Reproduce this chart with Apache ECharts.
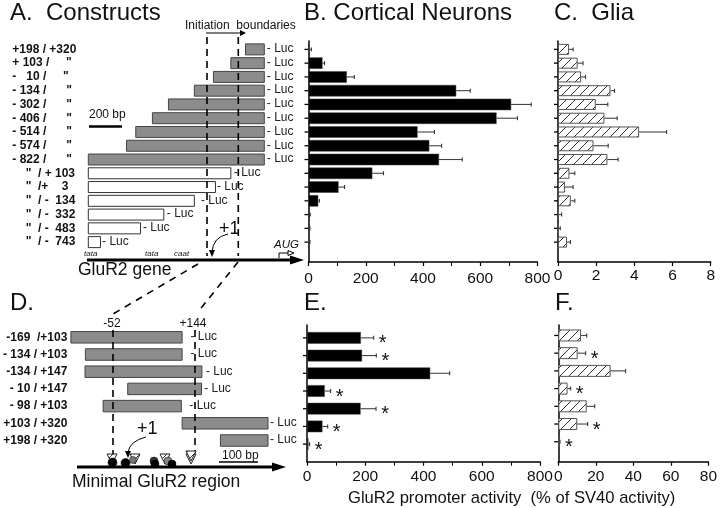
<!DOCTYPE html>
<html>
<head>
<meta charset="utf-8">
<style>html,body{margin:0;padding:0;background:#fff}#chart{width:720px;height:508px}</style>
<script src="https://cdn.jsdelivr.net/npm/echarts@6/dist/echarts.min.js"></script>
</head>
<body>
<div id="chart"></div>
<script>
// construct labels, panel A
var constructLabelsA = ['+198 / +320','+ 103 /     "','-   10 /     "','- 134 /      "','- 302 /      "','- 406 /      "','- 514 /      "','- 574 /      "','- 822 /      "',
    '    "  / + 103','    "  /+    3','    "  / -  134','    "  / -  332','    "  / -  483','    "  / -  743'];
// construct extents in bp
var startA = [198,103,-10,-134,-302,-406,-514,-574,-822,-822,-822,-822,-822,-822,-822];
var endA = [320,320,320,320,320,320,320,320,320,103,3,-134,-332,-483,-743];
var lucGapA = [2.5,2.5,2.5,2.5,2.5,2.5,2.5,2.5,2.5,3,1.5,6.6,3,2.4,1.6];

// panel D
var constructLabelsD = ['-169  /+103','- 134 / +103','-134 / +147','- 10 / +147','- 98 / +103','+103 / +320','+198 / +320'];
var startD = [-169,-133,-134,-28,-89,107,202];
var endD = [107,107,156,155,105,320,320];
var lucGapD = [8.3,8.3,4,2.7,8,2,2];

// activity values and top of the error bar
var neurons = [3,49,134,516,708,657,381,422,456,223,105,34,3,2,2];
var neuronsErr = [10,56,160,565,778,730,440,465,537,262,126,38,6,5,5];
var glia = [0.58,1.03,1.21,2.75,1.98,2.43,4.25,1.86,2.59,0.6,0.37,0.67,0.02,0.01,0.47];
var gliaErr = [0.79,1.31,1.44,2.96,2.61,3.1,5.69,2.63,3.15,0.88,0.79,0.88,0.19,0.12,0.65];
var neuronsMin = [185,189,423,61,184,53,5];
var neuronsMinErr = [229,238,490,81,237,71,9];
var neuronsMinStar = [1,1,0,1,1,1,1];
var gliaMin = [12,10.2,27.6,4.9,15,10,0.5];
var gliaMinErr = [15,14.4,35.5,6.5,19.2,15.5,0.9];
var gliaMinStar = [0,1,0,1,0,1,1];

var FONT = '"Liberation Sans", Arial, sans-serif';

function hatch(){
    var c = document.createElement('canvas');
    c.width = 9; c.height = 9;
    var g = c.getContext('2d');
    g.fillStyle = '#fff';
    g.fillRect(0,0,9,9);
    g.strokeStyle = '#333';
    g.lineWidth = 1;
    g.beginPath();
    g.moveTo(-1,10); g.lineTo(10,-1);
    g.stroke();
    return {image:c,repeat:'repeat'};
}
var hatchFill = hatch();

var grids = [], xAxes = [], yAxes = [], series = [];

function addGrid(left,top,width,height){
    grids.push({left:left,top:top,width:width,height:height,containLabel:false});
    return grids.length-1;
}

// bars drawn in the row grid, axes drawn in a slightly taller frame grid
function addPanel(o){
    var n = o.values.length, cats = [];
    for(var i=0;i<n;i++) cats.push(String(i));
    var rowGrid = addGrid(o.left,o.rowTop,o.width,o.rowHeight);
    xAxes.push({gridIndex:rowGrid,type:'value',min:0,max:o.max,show:false});
    yAxes.push({gridIndex:rowGrid,type:'category',data:cats,inverse:true,
        axisLine:{show:false},axisLabel:{show:false},axisTick:{show:false}});
    var axisId = xAxes.length-1;
    var frame = addGrid(o.left,o.frameTop,o.width,o.frameHeight);
    xAxes.push({gridIndex:frame,type:'value',min:0,max:o.max,interval:o.interval,
        splitLine:{show:false},
        axisLine:{show:true,lineStyle:{color:'#000',width:1.5}},
        axisTick:{show:true,length:4,lineStyle:{color:'#000',width:1.2}},
        minorTick:{show:!!o.minor,splitNumber:2,length:4,lineStyle:{color:'#000',width:1}},
        axisLabel:{color:'#111',fontFamily:FONT,fontSize:15.5,margin:o.labelMargin,hideOverlap:false,showMinLabel:true,showMaxLabel:true}});
    yAxes.push({gridIndex:frame,type:'value',min:0,max:1,splitLine:{show:false},
        axisLine:{show:true,lineStyle:{color:'#000',width:1.5}},axisTick:{show:false},axisLabel:{show:false}});

    series.push({type:'bar',xAxisIndex:axisId,yAxisIndex:axisId,data:o.values,barWidth:o.barWidth,
        silent:true,animation:false,
        itemStyle:o.hatched ? {color:hatchFill,borderColor:'#555',borderWidth:1} : {color:'#000',borderColor:'#444',borderWidth:0.5}});
    var errData = [];
    for(var j=0;j<n;j++) errData.push([o.values[j],o.errors[j],j,o.stars ? o.stars[j] : 0]);
    series.push({type:'custom',xAxisIndex:axisId,yAxisIndex:axisId,data:errData,silent:true,animation:false,clip:false,
        encode:{x:[0,1],y:2},
        renderItem:function(p,api){
            var z = api.coord([0,api.value(2)]);
            var a = api.coord([api.value(0),api.value(2)]);
            var b = api.coord([api.value(1),api.value(2)]);
            var kids = [
                {type:'line',shape:{x1:z[0]-4,y1:z[1],x2:z[0],y2:z[1]},style:{stroke:'#000',lineWidth:1.3}}, // row tick
                {type:'line',shape:{x1:a[0],y1:a[1],x2:b[0],y2:b[1]},style:{stroke:'#444',lineWidth:1.1}},
                {type:'line',shape:{x1:b[0],y1:b[1]-2,x2:b[0],y2:b[1]+2},style:{stroke:'#333',lineWidth:1.1}}
            ];
            if(api.value(3)){
                kids.push({type:'text',style:{x:b[0]+9,y:b[1]+6,text:'*',font:'20px '+FONT,fill:'#111',align:'center',verticalAlign:'middle'}});
            }
            return {type:'group',children:kids};
        }});
}

// construct maps: real bp scale, labels on the category axis
function addConstructs(o){
    var cats = o.labels;
    var g = addGrid(o.left,o.top,o.width,o.height);
    xAxes.push({gridIndex:g,type:'value',min:o.min,max:o.max,show:false});
    yAxes.push({gridIndex:g,type:'category',data:cats,inverse:true,
        axisLine:{show:false},axisTick:{show:false},
        axisLabel:{color:'#111',fontFamily:FONT,fontWeight:'bold',fontSize:o.fontSize,align:o.labelAlign,margin:o.margin,interval:0}});
    var id = xAxes.length-1, data = [];
    for(var i=0;i<cats.length;i++) data.push([o.start[i],o.end[i],i]);
    series.push({type:'custom',xAxisIndex:id,yAxisIndex:id,data:data,silent:true,animation:false,clip:false,
        encode:{x:[0,1],y:2},
        renderItem:function(p,api){
            var idx = p.dataIndex;
            var a = api.coord([api.value(0),api.value(2)]);
            var b = api.coord([api.value(1),api.value(2)]);
            var h = o.barHeight;
            var white = o.whiteFrom !== undefined && idx >= o.whiteFrom;
            return {type:'group',children:[
                {type:'rect',shape:{x:a[0],y:a[1]-h/2,width:b[0]-a[0],height:h},
                    style:{fill:white?'#fff':'#8c8c8c',stroke:white?'#333':'#444',lineWidth:1}},
                {type:'text',style:{x:b[0]+o.gaps[idx],y:a[1]-0.5,text:'- Luc',font:'12px '+FONT,fill:'#222',align:'left',verticalAlign:'middle'}}
            ]};
        }});
}

addConstructs({labels:constructLabelsA,start:startA,end:endA,gaps:lucGapA,min:-822,max:320,
    left:88.3,top:42.5,width:176,height:206.5,barHeight:11,whiteFrom:9,fontSize:12,labelAlign:'left',margin:76});
addConstructs({labels:constructLabelsD,start:startD,end:endD,gaps:lucGapD,min:-169,max:320,
    left:69.7,top:328.7,width:198.3,height:120.4,barHeight:11.5,fontSize:12,labelAlign:'right',margin:3.5});

addPanel({values:neurons,errors:neuronsErr,max:800,interval:200,minor:true,left:308.5,width:229,
    rowTop:42.5,rowHeight:206.5,frameTop:41,frameHeight:221,barWidth:11.5,labelMargin:9});
addPanel({values:glia,errors:gliaErr,max:8,interval:2,left:558,width:152.7,hatched:true,
    rowTop:42.5,rowHeight:206.5,frameTop:41,frameHeight:221,barWidth:11,labelMargin:6});
addPanel({values:neuronsMin,errors:neuronsMinErr,stars:neuronsMinStar,max:800,interval:200,minor:true,left:307,width:233,
    rowTop:329,rowHeight:124,frameTop:325,frameHeight:136.7,barWidth:11.7,labelMargin:7});
addPanel({values:gliaMin,errors:gliaMinErr,stars:gliaMinStar,max:80,interval:20,left:558.3,width:151.7,hatched:true,
    rowTop:326.6,rowHeight:124,frameTop:325,frameHeight:136.7,barWidth:12,labelMargin:7});

// annotations
function T(x,y,text,size,extra){
    var st = {x:x,y:y,text:text,font:(extra&&extra.font||'')+' '+size+'px '+FONT,fill:'#111',align:extra&&extra.align||'left',verticalAlign:'middle'};
    return {type:'text',z:100,style:st};
}
function L(x1,y1,x2,y2,w,dash){
    return {type:'line',z:100,shape:{x1:x1,y1:y1,x2:x2,y2:y2},style:{stroke:'#000',lineWidth:w,lineDash:dash||null}};
}
function P(points,fill,stroke){
    return {type:'polygon',z:100,shape:{points:points},style:{fill:fill||'#000',stroke:stroke||null,lineWidth:1}};
}
function C(x,y,r,fill){
    return {type:'circle',z:101,shape:{cx:x,cy:y,r:r},style:{fill:fill,stroke:'#000',lineWidth:0.5}};
}
function curve(x1,y1,cx,cy,x2,y2){
    return {type:'bezierCurve',z:100,shape:{x1:x1,y1:y1,x2:x2,y2:y2,cpx1:cx,cpy1:cy},style:{stroke:'#000',lineWidth:1,fill:null}};
}
function tri(x,y){
    return {type:'polygon',z:100,shape:{points:[[x-5,y-5],[x+5,y-5],[x,y+5]]},style:{fill:hatchFill,stroke:'#222',lineWidth:1}};
}

var notes = [
    T(10,13,'A.  Constructs',24), T(304,13,'B. Cortical Neurons',24), T(554,13,'C.  Glia',24),
    T(10,303,'D.',24), T(304,303,'E.',24), T(555,303,'F.',24),
    T(185,26,'Initiation  boundaries',12),
    L(206,33,242,33,1), P([[240,30],[246,33],[240,36]]),
    L(207,37,207,256,1.6,[7,5]), L(238.3,37,238.3,256,1.6,[7,5]),
    T(89,115,'200 bp',12), L(89,126.5,122,126.5,2.5),
    L(87,260,292,260,3), P([[290,255.5],[304,260],[290,264.5]]),
    T(84,254,'tata',8,{font:'italic'}), T(145,254,'tata',8,{font:'italic'}), T(174,254,'caat',8,{font:'italic'}),
    T(274,245,'AUG',11.5,{font:'italic'}),
    L(279,253,279,258,1), L(279,253,288,253,1), P([[288,250.5],[294,253],[288,255.5]],'#fff','#000'),
    T(219,229,'+1',18), curve(228,234,213,237,212,252), P([[209,250],[215,250],[212,257]]),
    T(78,270,'GluR2 gene',17.5),
    L(198,264,113,314,1.6,[7,6]), L(238,262,198,312,1.6,[7,6]),
    T(112,324,'-52',12,{align:'center'}), T(193,324,'+144',12,{align:'center'}),
    L(113,330,113,455,1.6,[7,5]), L(195,330,195,453,1.6,[7,5]),
    T(137,429,'+1',18), curve(146,437,130,441,128,452), P([[125,451],[131,451],[128,458]]),
    tri(112,459), tri(135,459), tri(165,459), tri(191,459), tri(191,456),
    C(112.5,462.5,4.5,'#000'), C(125.5,463,4.5,'#000'), C(133,460,3.5,'#777'),
    C(154,461,4,'#333'), C(155,464,4,'#000'), C(168,461,4,'#888'), C(172,464,4,'#000'),
    T(222,456,'100 bp',12), L(219,462,258,462,1.6),
    L(77,467,275,467,3), P([[272,462.5],[286,467],[272,471.5]]),
    T(72,482,'Minimal GluR2 region',17.5),
    T(348,498,'GluR2 promoter activity  (% of SV40 activity)',16.6)
];

var chart = echarts.init(document.getElementById('chart'),null,{renderer:'canvas'});
chart.setOption({
    animation:false,
    backgroundColor:'#fff',
    grid:grids,
    xAxis:xAxes,
    yAxis:yAxes,
    series:series,
    graphic:{elements:notes}
});
</script>
</body>
</html>
